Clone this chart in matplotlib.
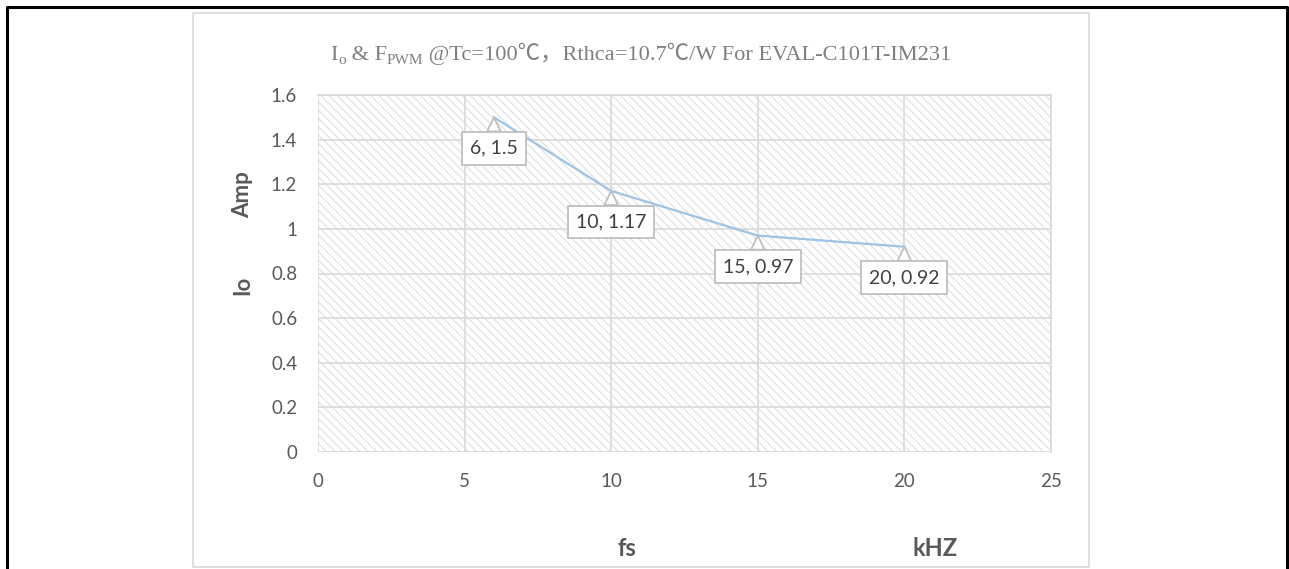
import matplotlib
matplotlib.use('Agg')
import matplotlib.pyplot as plt
from matplotlib.patches import Rectangle
from matplotlib.lines import Line2D
from matplotlib.ticker import FuncFormatter

# data
freq_khz = [6, 10, 15, 20]
io_amp = [1.5, 1.17, 0.97, 0.92]
point_labels = ['6, 1.5', '10, 1.17', '15, 0.97', '20, 0.92']
x_ticks = [0, 5, 10, 15, 20, 25]
y_ticks = [0, 0.2, 0.4, 0.6, 0.8, 1.0, 1.2, 1.4, 1.6]

# title pieces: (text, is_subscript)
title_parts = [('I', False), ('o', True), (' & F', False), ('PWM', True),
               (' @Tc=100℃，Rthca=10.7℃/W For EVAL-C101T-IM231', False)]

W, H = 1289, 569
plt.rcParams['font.family'] = ['Lato', 'DejaVu Sans']
plt.rcParams['hatch.linewidth'] = 0.7

fig = plt.figure(figsize=(W / 100, H / 100), dpi=100)

def fx(px):
    return px / W

def fy(py):
    return 1 - py / H

# plot area in pixels: x 318..1051, y 95..452
ax = fig.add_axes([fx(318), fy(452), fx(1051) - fx(318), fy(95) - fy(452)])
ax.set_xlim(0, 25)
ax.set_ylim(0, 1.6)

grey_txt = '#595959'
grid_c = '#d9d9d9'

ax.add_patch(Rectangle((0, 0), 1, 1, transform=ax.transAxes, facecolor='white',
                       edgecolor='#dcdcdc', hatch='\\\\\\\\', linewidth=0, zorder=0))
ax.set_xticks(x_ticks)
ax.set_yticks(y_ticks)
ax.yaxis.set_major_formatter(FuncFormatter(lambda v, p: '%g' % v))
ax.grid(True, color=grid_c, linewidth=1.2, zorder=1)
ax.set_axisbelow(True)
for s in ax.spines.values():
    s.set_visible(False)
ax.axhline(1.6, color=grid_c, lw=1.2, zorder=1, clip_on=False)
ax.axvline(25, color=grid_c, lw=1.2, zorder=1, clip_on=False)
ax.tick_params(length=0, labelsize=13.5, labelcolor=grey_txt)
ax.tick_params(axis='x', pad=15)
ax.tick_params(axis='y', pad=15)

ax.plot(freq_khz, io_amp, color='#9dc3e6', lw=1.6, zorder=3)

for x, y, lab in zip(freq_khz, io_amp, point_labels):
    ax.annotate(lab, xy=(x, y), xytext=(0, -31), textcoords='offset pixels',
                ha='center', va='center', fontsize=14, color='#404040',
                bbox=dict(boxstyle='square,pad=0.4', fc='white', ec='#bfbfbf', lw=1.3),
                arrowprops=dict(arrowstyle='wedge,tail_width=0.7', fc='white', ec='#bfbfbf',
                                lw=1.3, shrinkA=0, shrinkB=0),
                zorder=4)

# title built from pieces so the subscripts and the ℃ glyph both render
title_fam = ['Liberation Serif', 'Noto Sans CJK SC']
title_size = 16.1
renderer = fig.canvas.get_renderer()
pieces = []
for txt, sub in title_parts:
    t = fig.text(0, 0, txt, fontsize=title_size * (0.68 if sub else 1.0),
                 color='#7f7f7f', family=title_fam, ha='left', va='baseline')
    pieces.append((t, sub))
widths = [t.get_window_extent(renderer).width for t, _ in pieces]
x0 = 641 - sum(widths) / 2
base_y = 60
for (t, sub), w in zip(pieces, widths):
    t.set_position((fx(x0), fy(base_y + (4 if sub else 0))))
    x0 += w

fig.text(fx(243), fy(195), 'Amp', rotation=90, ha='center', va='center',
         fontsize=16, fontweight='bold', color=grey_txt)
fig.text(fx(243), fy(285), 'Io', rotation=90, ha='center', va='center',
         fontsize=16, fontweight='bold', color=grey_txt)
fig.text(fx(627), fy(549), 'fs', ha='center', va='center', fontsize=17,
         fontweight='bold', color=grey_txt)
fig.text(fx(935), fy(549), 'kHZ', ha='center', va='center', fontsize=17,
         fontweight='bold', color=grey_txt)

# chart border and outer frame
fig.add_artist(Rectangle((fx(193), fy(567)), fx(1089) - fx(193), fy(13) - fy(567),
                         transform=fig.transFigure, fill=False, ec='#d9d9d9', lw=1.2))
fig.add_artist(Line2D([fx(7), fx(7), fx(1287), fx(1287)], [0, fy(7), fy(7), 0],
                      transform=fig.transFigure, color='black', lw=2.2))

fig.savefig('out.png', dpi=100)
